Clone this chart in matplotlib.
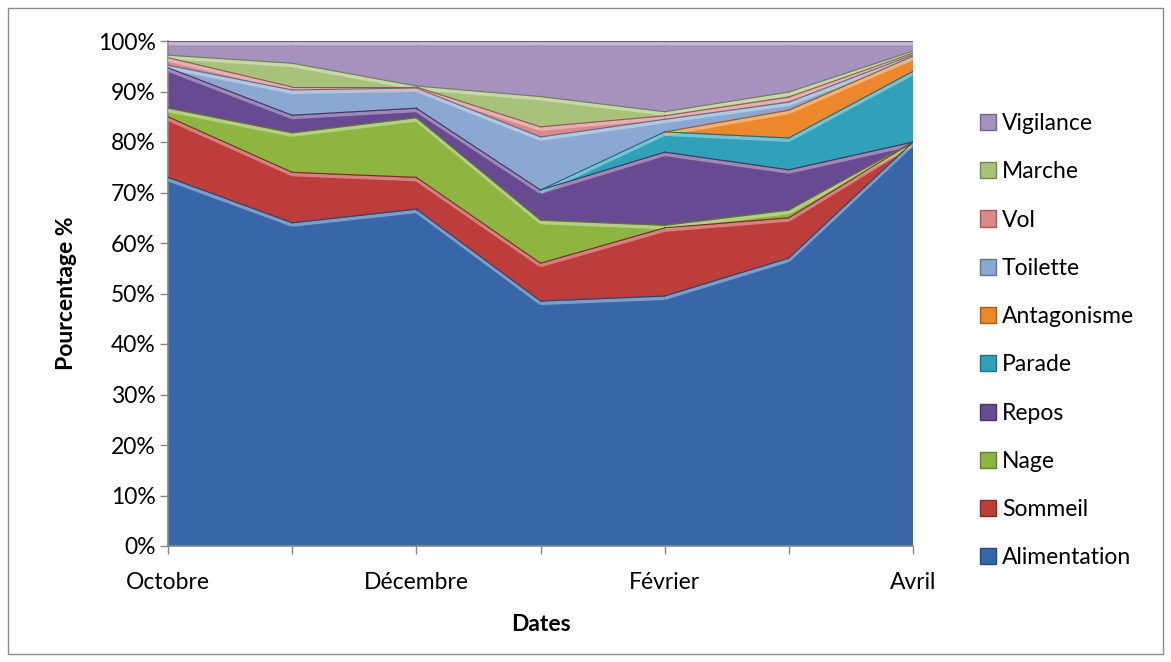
import numpy as np
import matplotlib
matplotlib.use("Agg")
import matplotlib.pyplot as plt
from matplotlib.patches import Patch, Rectangle
from matplotlib.colors import to_rgb

plt.rcParams['font.family'] = ['Lato', 'DejaVu Sans']

# data (percent of time per behaviour, monthly)
mois = ['Octobre', 'Novembre', 'Décembre', 'Janvier', 'Février', 'Mars', 'Avril']
tick_labels = ['Octobre', '', 'Décembre', '', 'Février', '', 'Avril']

alimentation = [73.0, 64.0, 66.7, 48.5, 49.5, 57.0, 80.0]
sommeil = [12.0, 10.0, 6.3, 7.5, 13.5, 8.0, 0.0]
nage = [1.7, 7.8, 11.8, 8.5, 0.5, 1.5, 0.0]
repos = [8.0, 3.5, 1.9, 6.0, 14.5, 8.0, 0.0]
parade = [0.0, 0.0, 0.0, 0.0, 4.0, 6.3, 14.0]
antagonisme = [0.0, 0.0, 0.0, 0.0, 0.0, 5.5, 3.0]
toilette = [0.5, 5.0, 4.0, 10.5, 2.5, 1.6, 0.3]
vol = [1.5, 0.6, 0.2, 2.0, 0.7, 1.0, 0.3]
marche = [0.5, 4.7, 0.2, 6.0, 0.8, 1.0, 0.4]
vigilance = [2.8, 4.4, 8.9, 11.0, 14.0, 10.1, 2.0]

series = [alimentation, sommeil, nage, repos, parade,
          antagonisme, toilette, vol, marche, vigilance]
noms = ['Alimentation', 'Sommeil', 'Nage', 'Repos', 'Parade',
        'Antagonisme', 'Toilette', 'Vol', 'Marche', 'Vigilance']
couleurs = ['#3767a8', '#bd3d3a', '#8db53f', '#684a92', '#2fa2b9',
            '#ec872c', '#8aa8d2', '#d98987', '#a9c27a', '#a592bf']
FS = 16.5


def eclaircir(c, f):
    r, g, b = to_rgb(c)
    return (r + (1 - r) * f, g + (1 - g) * f, b + (1 - b) * f)


def assombrir(c, f):
    r, g, b = to_rgb(c)
    return (r * (1 - f), g * (1 - f), b * (1 - f))


fig = plt.figure(figsize=(11.71, 6.62), dpi=100)
ax = fig.add_axes([168 / 1171, 1 - 546 / 662, (913 - 168) / 1171, (546 - 41) / 662])

x = np.arange(len(mois))
data = np.array(series)
data = data / data.sum(axis=0) * 100  # normalise to 100 %
cum = np.cumsum(data, axis=0)

ax.stackplot(x, data, colors=couleurs, linewidth=0)

# fake bevel: light line along the top of each layer, dark thin line on the edge
# only where the layer actually has some thickness
for i, c in enumerate(couleurs):
    for j in range(len(x) - 1):
        if data[i, j] < 0.05 and data[i, j + 1] < 0.05:
            continue
        ax.plot(x[j:j + 2], cum[i, j:j + 2] - 0.45, color=eclaircir(c, 0.35), lw=2.5,
                solid_capstyle='butt', zorder=3)
        ax.plot(x[j:j + 2], cum[i, j:j + 2], color=assombrir(c, 0.35), lw=0.8, zorder=4)

ax.set_xlim(0, len(mois) - 1)
ax.set_ylim(0, 100)
ax.set_yticks(np.arange(0, 101, 10))
ax.set_yticklabels([f'{v}%' for v in range(0, 101, 10)])
ax.set_xticks(x)
ax.set_xticklabels(tick_labels)
ax.tick_params(axis='both', labelsize=FS, color='#868686', length=6, width=1)
ax.tick_params(axis='x', pad=13)
ax.tick_params(axis='y', pad=3)
for s in ['top', 'right']:
    ax.spines[s].set_visible(False)
for s in ['left', 'bottom']:
    ax.spines[s].set_color('#868686')
    ax.spines[s].set_linewidth(1.2)

ax.set_ylabel('Pourcentage %', fontsize=FS, fontweight='bold', labelpad=15)
ax.set_xlabel('Dates', fontsize=FS, fontweight='bold', labelpad=15)

handles = [Patch(facecolor=c, edgecolor=assombrir(c, 0.3)) for c in couleurs][::-1]
leg = fig.legend(handles, noms[::-1], loc='upper left', bbox_to_anchor=(980 / 1171, 1 - 113 / 662),
                 frameon=False, fontsize=FS, handlelength=0.7, handleheight=0.7,
                 handletextpad=0.25, labelspacing=1.19, borderaxespad=0, borderpad=0)

# outer chart border
fig.patches.append(Rectangle((8 / 1171, 8 / 662), 1155 / 1171, 646 / 662, transform=fig.transFigure,
                             fill=False, edgecolor='#8c8c8c', lw=1))

fig.savefig('out.png', dpi=100)
